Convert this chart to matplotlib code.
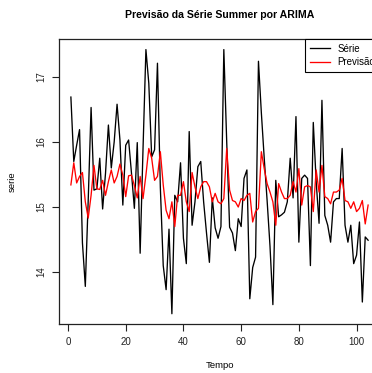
import numpy as np
import matplotlib
matplotlib.use("Agg")
import matplotlib.pyplot as plt

plt.rcParams['font.family'] = ['Liberation Sans', 'DejaVu Sans']

# serie observada (Summer) e previsao ARIMA
serie = [16.69, 15.70, 15.95, 16.19, 14.45, 13.78, 15.10, 16.53, 15.26, 15.28,
         15.75, 14.97, 15.52, 16.26, 15.60, 16.00, 16.58, 16.03, 15.03, 15.95,
         16.03, 15.52, 14.98, 15.99, 14.29, 15.90, 17.42, 16.90, 15.77, 15.88,
         17.21, 15.30, 14.10, 13.73, 14.66, 13.36, 15.18, 15.08, 15.68, 14.52,
         14.13, 16.16, 14.72, 15.08, 15.62, 15.70, 15.08, 14.60, 14.15, 15.14,
         14.68, 14.52, 14.70, 17.42, 16.00, 14.69, 14.60, 14.33, 14.82, 14.70,
         15.44, 15.57, 13.59, 14.07, 14.23, 17.24, 16.45, 15.75, 15.10, 14.40,
         13.50, 15.41, 14.85, 14.88, 14.92, 15.08, 15.75, 15.14, 16.39, 14.46,
         15.44, 15.49, 15.44, 14.10, 16.30, 15.39, 14.75, 16.64, 14.87, 14.72,
         14.46, 15.08, 15.13, 15.13, 15.90, 14.72, 14.46, 14.72, 14.13, 14.26,
         14.77, 13.54, 14.54, 14.49]
previsao = [15.34, 15.68, 15.37, 15.47, 15.53, 15.08, 14.83, 15.18, 15.64, 15.28,
            15.27, 15.41, 15.18, 15.39, 15.57, 15.37, 15.47, 15.66, 15.49, 15.16,
            15.48, 15.49, 15.33, 15.14, 15.47, 15.13, 15.49, 15.90, 15.75, 15.41,
            15.47, 15.85, 15.34, 14.95, 14.82, 15.08, 14.70, 15.18, 15.18, 15.39,
            15.08, 14.93, 15.53, 15.31, 15.13, 15.31, 15.39, 15.39, 15.31, 15.08,
            15.21, 15.08, 15.05, 15.13, 15.90, 15.26, 15.10, 15.08, 15.00, 15.13,
            15.10, 15.18, 15.21, 14.77, 14.93, 14.98, 15.85, 15.59, 15.36, 15.23,
            15.08, 14.72, 15.36, 15.23, 15.13, 15.13, 15.18, 15.39, 15.23, 15.59,
            15.03, 15.31, 15.33, 15.31, 14.93, 15.57, 15.23, 15.64, 15.16, 15.13,
            15.05, 15.23, 15.23, 15.26, 15.44, 15.10, 15.08, 14.98, 15.08, 14.93,
            14.98, 15.10, 14.74, 15.03]
tempo = np.arange(1, len(serie) + 1)
xticks = [0, 20, 40, 60, 80, 100]
yticks = [14, 15, 16, 17]

fig = plt.figure(figsize=(3.72, 3.73), dpi=100)
# plot region runs past the right edge, like the cropped original
ax = fig.add_axes([59/372, 1 - 324.3/373, 321/372, 285.3/373])

ax.plot(tempo, serie, color='black', lw=0.95, label='Série')
ax.plot(tempo, previsao, color='red', lw=0.95, label='Previsão')

# R style 4% padding
x_pad = 0.04 * (tempo[-1] - tempo[0])
ax.set_xlim(tempo[0] - x_pad, tempo[-1] + x_pad)
lo = min(min(serie), min(previsao))
hi = max(max(serie), max(previsao))
ax.set_ylim(lo - 0.04 * (hi - lo), hi + 0.04 * (hi - lo))

ax.set_xticks(xticks)
ax.set_yticks(yticks)
ax.set_yticklabels([str(v) for v in yticks], rotation=90, va='center')
ax.tick_params(direction='out', length=5, width=0.8, labelsize=7, colors='#222222', pad=4)
for sp in ax.spines.values():
    sp.set_linewidth(0.9)
    sp.set_color('#222222')

ax.set_xlabel('Tempo', fontsize=6.8, labelpad=10)
ax.set_ylabel('serie', fontsize=6.8, labelpad=14)
fig.text(0.5 * (59 + 380) / 372, 1 - 15/373, 'Previsão da Série Summer por ARIMA',
         ha='center', va='center', fontsize=7.6, fontweight='bold')

leg = ax.legend(loc='upper right', borderaxespad=0, fancybox=False, fontsize=7,
                handlelength=2.0, handletextpad=0.8, borderpad=0.5, labelspacing=0.35,
                framealpha=1)
leg.get_frame().set_edgecolor('black')
leg.get_frame().set_linewidth(0.8)

fig.savefig('out.png', dpi=100)
